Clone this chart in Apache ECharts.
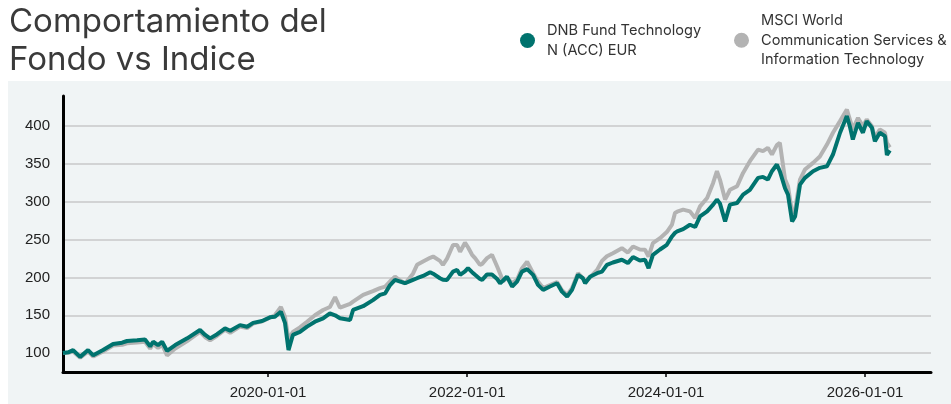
<!DOCTYPE html>
<html>
<head>
<meta charset="utf-8">
<script src="https://cdn.jsdelivr.net/npm/echarts@6/dist/echarts.min.js"></script>
<style>
  html, body { margin: 0; padding: 0; background: #fff; }
  #chart { width: 951px; height: 404px; }
</style>
</head>
<body>
<div id="chart"></div>
<script>
var myChart = echarts.init(document.getElementById('chart'));

// fechas y valores (base 100)
var dates = [
  '2017-12-09','2017-12-28','2018-01-15','2018-02-10','2018-03-11','2018-03-30','2018-05-05','2018-06-11',
  '2018-07-14','2018-08-01','2018-09-07','2018-10-06','2018-10-25','2018-11-05','2018-11-23','2018-12-08',
  '2018-12-26','2019-01-25','2019-03-10','2019-04-26','2019-05-15','2019-06-02','2019-06-28','2019-07-27',
  '2019-08-15','2019-09-20','2019-10-16','2019-11-07','2019-12-10','2020-01-08','2020-01-26','2020-02-17',
  '2020-03-03','2020-03-16','2020-04-01','2020-04-27','2020-05-23','2020-06-21','2020-07-21','2020-08-15',
  '2020-09-03','2020-09-21','2020-10-28','2020-11-08','2020-12-15','2021-01-20','2021-02-15','2021-03-06',
  '2021-03-24','2021-04-11','2021-04-30','2021-05-18','2021-06-16','2021-07-01','2021-07-23','2021-08-18',
  '2021-08-29','2021-09-23','2021-10-04','2021-10-19','2021-11-10','2021-11-25','2021-12-06','2021-12-24',
  '2022-01-04','2022-01-19','2022-01-30','2022-02-17','2022-02-25','2022-03-15','2022-04-02','2022-04-21',
  '2022-05-02','2022-05-13','2022-05-27','2022-06-15','2022-07-03','2022-07-21','2022-08-09','2022-08-31',
  '2022-09-18','2022-10-07','2022-11-01','2022-11-27','2022-12-15','2023-01-03','2023-01-21','2023-02-12',
  '2023-03-02','2023-03-10','2023-03-28','2023-04-23','2023-05-11','2023-05-29','2023-06-20','2023-07-23',
  '2023-08-14','2023-09-02','2023-09-27','2023-10-16','2023-10-29','2023-11-14','2023-12-10','2024-01-04',
  '2024-01-23','2024-02-03','2024-02-11','2024-03-04','2024-03-29','2024-04-17','2024-05-05','2024-05-31',
  '2024-06-22','2024-07-06','2024-07-17','2024-08-05','2024-08-23','2024-09-18','2024-10-10','2024-11-04',
  '2024-12-04','2024-12-22','2025-01-09','2025-01-24','2025-02-11','2025-02-22','2025-03-13','2025-03-24',
  '2025-04-08','2025-04-19','2025-05-07','2025-05-25','2025-06-24','2025-07-19','2025-08-14','2025-09-05',
  '2025-10-01','2025-10-26','2025-11-06','2025-11-17','2025-12-06','2025-12-24','2026-01-07','2026-01-26',
  '2026-02-06','2026-02-24','2026-03-15','2026-03-22','2026-04-02'
];

var fund = [
  100, 101, 104, 95, 104, 97, 104, 112,
  113.7, 116, 117, 118, 109, 115, 110.6, 115,
  103, 110.6, 119.5, 130.5, 124, 119.5, 125, 132.7,
  129.6, 137, 134.9, 140, 142.4, 147.3, 148, 154.8,
  140, 104, 124, 128, 135, 141.5, 146, 152.6,
  150, 146, 143.8, 157, 162, 170, 177, 179,
  190, 196.8, 194.6, 192.4, 196.8, 199, 202, 207,
  205, 199, 197, 196.8, 207.8, 210, 203.5, 208,
  212.3, 207, 203.5, 198, 196.8, 204, 204, 198,
  192.4, 196, 201.2, 188, 194.6, 207.8, 211, 203.5,
  190.2, 183.6, 188, 192.4, 181.3, 174.7, 183.6, 203.5,
  199, 192.4, 201, 205.7, 207.8, 216.7, 219.8, 223.4,
  219, 227, 222.4, 223.4, 212.3, 230, 237, 243.2,
  254.3, 259, 260.9, 264, 269.8, 266.7, 280.8, 287.4,
  296.3, 303, 298, 274, 296.3, 298.5, 309.6, 316,
  331.7, 333, 329.5, 340.5, 349.4, 340.5, 318, 309.6,
  274, 280.8, 322.8, 331.7, 340.5, 345, 347, 362.6,
  391.4, 413.4, 400, 382.5, 404.6, 391.4, 406.8, 398,
  380, 391.4, 387, 362, 368
];

var index = [
  100, 100.5, 102, 94, 102, 95.5, 102, 110,
  111, 113, 114, 115, 106, 112, 107, 111,
  97, 106, 116, 128, 121, 117, 123, 131,
  127, 135, 133, 139, 142, 147, 150, 161,
  148, 118, 128, 134, 141.5, 150, 157, 161,
  174, 160, 165, 168, 177, 182, 186, 188,
  195, 201, 196, 192, 205, 216.7, 221, 226,
  227.7, 222, 216.7, 225, 243, 243, 234, 246,
  240, 230, 225.6, 216.7, 218, 225.6, 230, 214.5,
  205, 195, 200, 192.4, 197, 212, 221, 205.7,
  194.6, 186, 190, 194, 183, 177, 186, 205.7,
  199, 194, 200, 210, 222, 228, 232, 238.8,
  233, 241, 237, 236.6, 227.7, 245.5, 252, 260,
  270, 285.3, 287, 289.7, 287.4, 278.6, 294, 305.2,
  325, 340.5, 329.5, 303, 316, 320.6, 338.3, 353.8,
  369, 367, 371.5, 362.6, 375, 378, 330, 320.6,
  285.3, 289.7, 329.5, 342.7, 351.6, 360, 375.8, 391.4,
  406.8, 422, 409, 395.8, 411, 400, 409, 400,
  384.7, 395.8, 391.4, 378, 372
];

var yTicks = [100, 150, 200, 250, 300, 350, 400];
var xTicks = ['2020-01-01', '2022-01-01', '2024-01-01', '2026-01-01'];

var fundName = 'DNB Fund Technology\nN (ACC) EUR';
var indexName = 'MSCI World\nCommunication Services &\nInformation Technology';

function toTime(s) {
  var p = s.split('-');
  return Date.UTC(+p[0], +p[1] - 1, +p[2]);
}
function pad(n) { return n < 10 ? '0' + n : '' + n; }

var fundData = dates.map(function (d, i) { return [toTime(d), fund[i]]; });
var indexData = dates.map(function (d, i) { return [toTime(d), index[i]]; });
var xTickTimes = xTicks.map(toTime);

var legendText = { fontFamily: 'Inter', fontSize: 14.6, color: '#333', lineHeight: 19.5, padding: [0, 0, 0, 7] };

option = {
  animation: false,
  backgroundColor: '#fff',
  title: {
    text: 'Comportamiento del\nFondo vs Indice',
    left: 9,
    top: 3,
    padding: 0,
    textStyle: {
      fontFamily: 'Inter',
      fontSize: 33,
      fontWeight: 400,
      lineHeight: 38,
      color: '#3a3a3a'
    }
  },
  graphic: [{
    type: 'rect',
    left: 8,
    top: 81,
    z: -10,
    silent: true,
    shape: { width: 943, height: 323 },
    style: { fill: '#f0f4f5' }
  }],
  legend: [{
    data: [fundName],
    left: 520,
    top: 21,
    padding: 0,
    icon: 'circle',
    itemWidth: 15,
    itemHeight: 15,
    textStyle: legendText
  }, {
    data: [indexName],
    left: 734,
    top: 11,
    padding: 0,
    icon: 'circle',
    itemWidth: 15,
    itemHeight: 15,
    textStyle: legendText
  }],
  grid: {
    left: 63,
    right: 20,
    top: 96,
    bottom: 32
  },
  xAxis: {
    type: 'value',
    min: toTime('2017-12-09'),
    max: toTime('2026-08-31'),
    axisLine: { lineStyle: { color: '#000', width: 3 } },
    axisTick: {
      customValues: xTickTimes,
      length: 5,
      lineStyle: { color: '#000', width: 1.5 }
    },
    axisLabel: {
      customValues: xTickTimes,
      margin: 13,
      fontFamily: 'Liberation Sans',
      fontSize: 15,
      color: '#222',
      formatter: function (v) {
        var d = new Date(v);
        return d.getUTCFullYear() + '-' + pad(d.getUTCMonth() + 1) + '-' + pad(d.getUTCDate());
      }
    },
    splitLine: { show: false }
  },
  yAxis: {
    type: 'value',
    min: 75,
    max: 440,
    axisLine: { show: true, lineStyle: { color: '#000', width: 3 } },
    axisTick: { show: false, customValues: yTicks },
    axisLabel: {
      customValues: yTicks,
      margin: 13,
      fontFamily: 'Liberation Sans',
      fontSize: 15,
      color: '#222'
    },
    splitLine: { show: true, lineStyle: { color: '#c8c8c8', width: 1.5 } }
  },
  series: [{
    name: fundName,
    type: 'line',
    data: fundData,
    showSymbol: false,
    z: 3,
    itemStyle: { color: '#00736e' },
    lineStyle: { color: '#00736e', width: 4 }
  }, {
    name: indexName,
    type: 'line',
    data: indexData,
    showSymbol: false,
    z: 2,
    itemStyle: { color: '#b3b3b3' },
    lineStyle: { color: '#b3b3b3', width: 4 }
  }]
};

if (option && typeof option === "object") {
  myChart.setOption(option, true);
}
</script>
</body>
</html>
